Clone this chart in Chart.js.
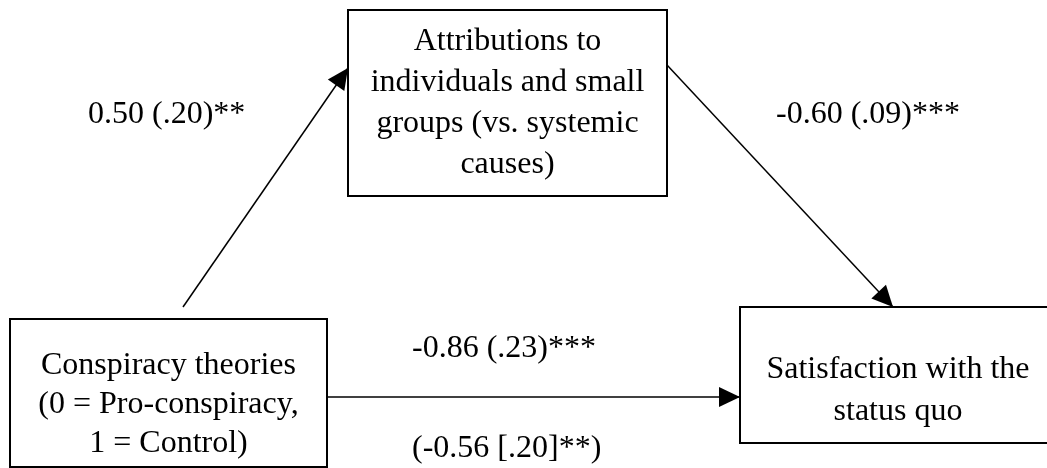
<!DOCTYPE html>
<html>
<head>
<meta charset="utf-8">
<script src="https://cdn.jsdelivr.net/npm/chart.js@4/dist/chart.umd.min.js"></script>
<style>
  html, body { margin: 0; padding: 0; background: #fff; }
  #wrap { width: 1047px; height: 468px; position: relative; }
</style>
</head>
<body>
<div id="wrap"><canvas id="diagram"></canvas></div>
<script>
// 变量 (box texts)
const mediatorLines = ['Attributions to', 'individuals and small', 'groups (vs. systemic', 'causes)'];
const predictorLines = ['Conspiracy theories', '(0 = Pro-conspiracy,', '1 = Control)'];
const outcomeLines = ['Satisfaction with the', 'status quo'];

// 路径系数 (path coefficients)
const pathA = '0.50 (.20)**';
const pathB = '-0.60 (.09)***';
const pathC = '-0.86 (.23)***';
const pathCPrime = '(-0.56 [.20]**)';

// layout, in axis units (x 0..1047, y 0..468 top-down)
const boxes = [
  { lines: mediatorLines, x1: 348, y1: 10, x2: 667, y2: 196, base: 50, lh: 41 },
  { lines: predictorLines, x1: 10, y1: 319, x2: 327, y2: 467, base: 374, lh: 39 },
  { lines: outcomeLines, x1: 740, y1: 307, x2: 1056, y2: 443, base: 378, lh: 42 }
];
const arrows = [
  [{ x: 183, y: 307 }, { x: 348, y: 68 }],
  [{ x: 667, y: 65 }, { x: 893, y: 307 }],
  [{ x: 327, y: 397 }, { x: 740, y: 397 }]
];
const coefLabels = [
  { text: pathA, x: 88, y: 123 },
  { text: pathB, x: 776, y: 123 },
  { text: pathC, x: 412, y: 357 },
  { text: pathCPrime, x: 412, y: 457 }
];

const FONT = '32px "Liberation Serif", "Times New Roman", serif';

const diagramPlugin = {
  id: 'diagram',
  afterDatasetsDraw(chart) {
    const ctx = chart.ctx;
    const sx = chart.scales.x, sy = chart.scales.y;
    const px = v => sx.getPixelForValue(v);
    const py = v => sy.getPixelForValue(v);
    ctx.save();
    ctx.strokeStyle = '#000';
    ctx.fillStyle = '#000';

    // 方框
    ctx.lineWidth = 2;
    boxes.forEach(b => {
      ctx.strokeRect(px(b.x1), py(b.y1), px(b.x2) - px(b.x1), py(b.y2) - py(b.y1));
      ctx.font = FONT;
      ctx.textAlign = 'center';
      ctx.textBaseline = 'alphabetic';
      const cx = (px(b.x1) + px(b.x2)) / 2;
      b.lines.forEach((t, i) => ctx.fillText(t, cx, py(b.base + i * b.lh)));
    });

    // 箭头
    arrows.forEach(a => {
      const x0 = px(a[0].x), y0 = py(a[0].y);
      const x1 = px(a[1].x), y1 = py(a[1].y);
      const ang = Math.atan2(y1 - y0, x1 - x0);
      const len = 21, half = 10;
      ctx.beginPath();
      ctx.moveTo(x1, y1);
      ctx.lineTo(x1 - len * Math.cos(ang) + half * Math.sin(ang), y1 - len * Math.sin(ang) - half * Math.cos(ang));
      ctx.lineTo(x1 - len * Math.cos(ang) - half * Math.sin(ang), y1 - len * Math.sin(ang) + half * Math.cos(ang));
      ctx.closePath();
      ctx.fill();
    });

    // 系数标签
    ctx.font = FONT;
    ctx.textAlign = 'left';
    ctx.textBaseline = 'alphabetic';
    coefLabels.forEach(l => ctx.fillText(l.text, px(l.x), py(l.y)));
    ctx.restore();
  }
};

new Chart(document.getElementById('diagram').getContext('2d'), {
  type: 'scatter',
  data: {
    datasets: arrows.map(a => ({
      data: a,
      showLine: true,
      borderColor: '#000',
      borderWidth: 1.5,
      pointRadius: 0,
      clip: false
    }))
  },
  options: {
    responsive: true,
    maintainAspectRatio: false,
    animation: false,
    layout: { padding: 0 },
    plugins: { legend: { display: false }, tooltip: { enabled: false } },
    scales: {
      x: { type: 'linear', min: 0, max: 1047, display: false },
      y: { type: 'linear', min: 0, max: 468, reverse: true, display: false }
    }
  },
  plugins: [diagramPlugin]
});
</script>
</body>
</html>
